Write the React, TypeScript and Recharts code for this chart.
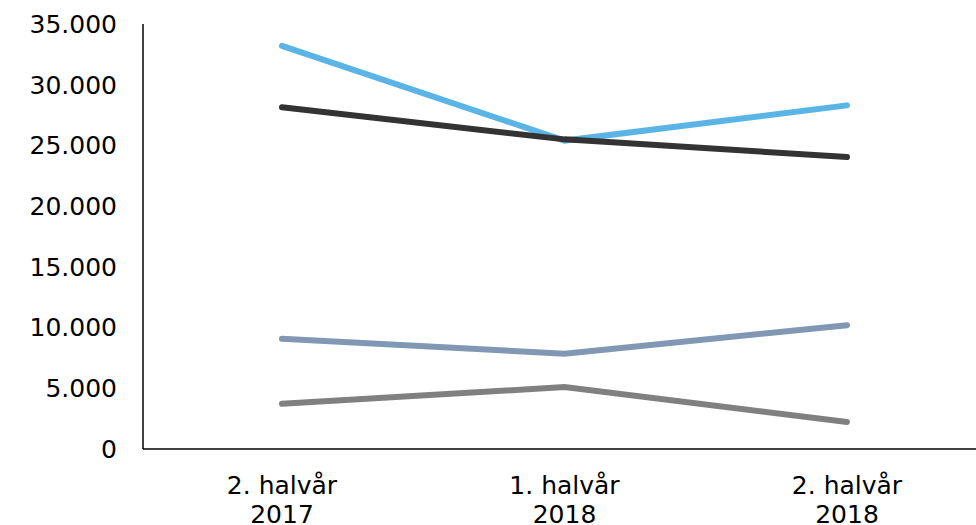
import { CartesianGrid, Line, LineChart, XAxis, YAxis } from 'recharts';

const categories = ['2. halvår\n2017', '1. halvår\n2018', '2. halvår\n2018'];
const seriesLightBlue = [33200, 25400, 28300];
const seriesDark = [28150, 25500, 24050];
const seriesSteel = [9080, 7850, 10200];
const seriesGray = [3720, 5100, 2230];
const yTicks = [0, 5000, 10000, 15000, 20000, 25000, 30000, 35000];

const COLORS = {
    lightBlue: '#5ab4e6',
    dark: '#333333',
    steel: '#8197b4',
    gray: '#808080',
    axis: '#000000',
    text: '#000000',
};

const FONT = '"DejaVu Sans", Verdana, sans-serif';
const FONT_SIZE = 25;

const data = categories.map((label, i) => ({
    label,
    lightBlue: seriesLightBlue[i],
    dark: seriesDark[i],
    steel: seriesSteel[i],
    gray: seriesGray[i],
}));

const formatThousands = (value: number) => String(value).replace(/\B(?=(\d{3})+(?!\d))/g, '.');

function CategoryTick({ x, y, payload }: any) {
    const lines = String(payload.value).split('\n');
    return (
        <text x={x} y={y} textAnchor="middle" fill={COLORS.text} fontSize={FONT_SIZE} fontFamily={FONT}>
            {lines.map((line, i) => (
                <tspan key={i} x={x} dy={i === 0 ? 37 : 29}>{line}</tspan>
            ))}
        </text>
    );
}

export default function App() {
    return (
        <div style={{ position: 'fixed', left: 0, top: 0, width: 976, height: 525, overflow: 'hidden', background: '#fff' }}>
            <LineChart
                width={990}
                height={525}
                data={data}
                margin={{ top: 24, right: 2, bottom: 0, left: 0 }}
            >
                <CartesianGrid stroke="none" />
                <XAxis
                    dataKey="label"
                    interval={0}
                    padding={{ left: 139, right: 141 }}
                    tick={<CategoryTick />}
                    tickLine={false}
                    axisLine={{ stroke: COLORS.axis, strokeWidth: 1.5 }}
                    height={76}
                />
                <YAxis
                    domain={[0, 35000]}
                    ticks={yTicks}
                    interval={0}
                    width={143}
                    tickLine={false}
                    tickSize={0}
                    tickMargin={26}
                    axisLine={{ stroke: COLORS.axis, strokeWidth: 1.5 }}
                    tick={{ fill: COLORS.text, fontSize: FONT_SIZE, fontFamily: FONT }}
                    tickFormatter={formatThousands}
                />
                <Line dataKey="lightBlue" stroke={COLORS.lightBlue} strokeWidth={6} strokeLinecap="round" dot={false} isAnimationActive={false} />
                <Line dataKey="dark" stroke={COLORS.dark} strokeWidth={6} strokeLinecap="round" dot={false} isAnimationActive={false} />
                <Line dataKey="steel" stroke={COLORS.steel} strokeWidth={6} strokeLinecap="round" dot={false} isAnimationActive={false} />
                <Line dataKey="gray" stroke={COLORS.gray} strokeWidth={6} strokeLinecap="round" dot={false} isAnimationActive={false} />
            </LineChart>
        </div>
    );
}
